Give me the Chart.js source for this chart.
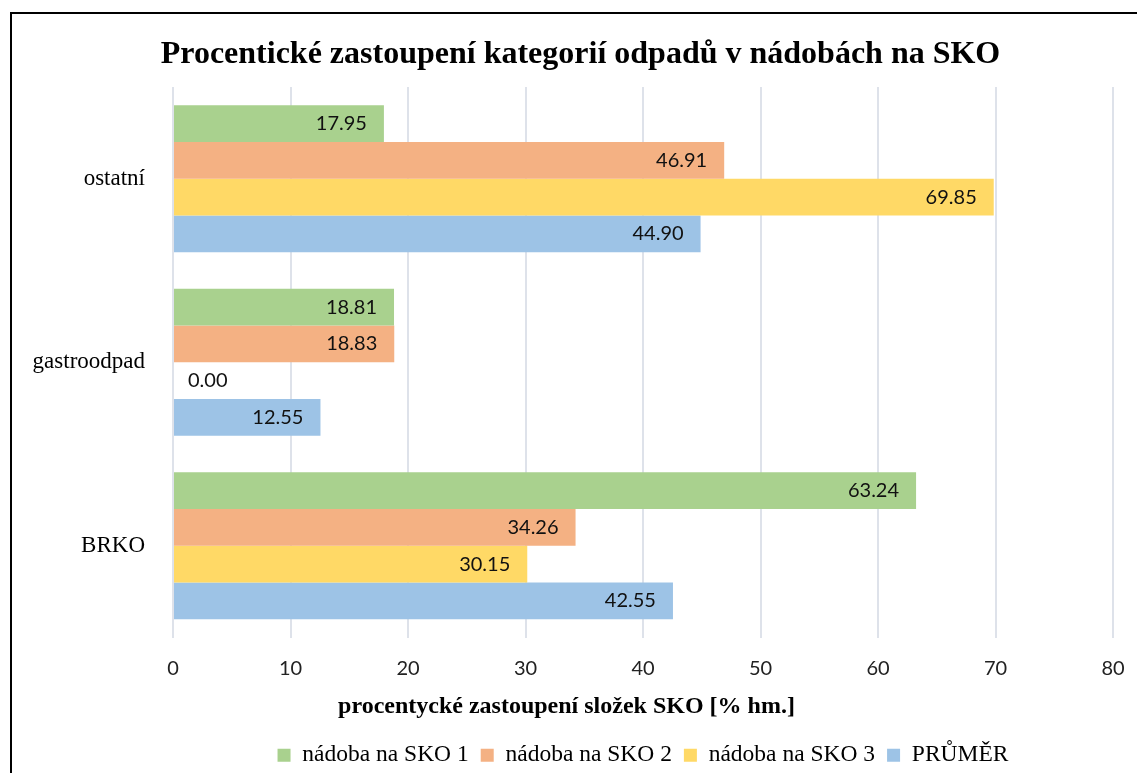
<!DOCTYPE html>
<html>
<head>
<meta charset="utf-8">
<script src="https://cdn.jsdelivr.net/npm/chart.js@4.4.0/dist/chart.umd.min.js"></script>
<style>
  body { margin: 0; background: #fff; overflow: hidden; }
  #frame { position: absolute; left: 10px; top: 12px; width: 1200px; height: 800px; border-left: 2px solid #000; border-top: 2px solid #000; }
  #chart { position: absolute; left: 12px; top: 14px; }
</style>
</head>
<body>
<div id="frame"></div>
<canvas id="chart" width="1137" height="763"></canvas>
<script>
const categories = ["ostatní", "gastroodpad", "BRKO"];
const sko1 = [17.95, 18.81, 63.24];
const sko2 = [46.91, 18.83, 34.26];
const sko3 = [69.85, 0.0, 30.15];
const prumer = [44.9, 12.55, 42.55];
const seriesNames = ["nádoba na SKO 1", "nádoba na SKO 2", "nádoba na SKO 3", "PRŮMĚR"];
const seriesColors = ["#A9D18E", "#F4B183", "#FFD966", "#9DC3E6"];
const xTicks = [0, 10, 20, 30, 40, 50, 60, 70, 80];

const titleText = "Procentické zastoupení kategorií odpadů v nádobách na SKO";
const xTitle = "procentycké zastoupení složek SKO [% hm.]";

const serif = "'Liberation Serif', 'Times New Roman', serif";
const sans = "Lato, 'Open Sans', sans-serif";

// values written at the end of each bar
const barLabels = {
  id: "barLabels",
  afterDatasetsDraw(chart) {
    const ctx = chart.ctx;
    ctx.save();
    ctx.font = "20px " + sans;
    ctx.fillStyle = "#111";
    ctx.textBaseline = "middle";
    chart.data.datasets.forEach((ds, i) => {
      chart.getDatasetMeta(i).data.forEach((bar, j) => {
        const text = ds.data[j].toFixed(2);
        const w = ctx.measureText(text).width;
        if (bar.x - bar.base > w + 24) {
          ctx.textAlign = "right";
          ctx.fillText(text, bar.x - 17, bar.y);
        } else {
          ctx.textAlign = "left";
          ctx.fillText(text, bar.x + 15, bar.y);
        }
      });
    });
    ctx.restore();
  },
};

// chart title and axis title are centred on the frame, not on the plot
const frameTexts = {
  id: "frameTexts",
  afterDraw(chart) {
    const ctx = chart.ctx;
    ctx.save();
    ctx.fillStyle = "#000";
    ctx.textAlign = "center";
    ctx.textBaseline = "middle";
    ctx.font = "bold 32px " + serif;
    ctx.fillText(titleText, chart.width / 2, 41);
    ctx.font = "bold 24px " + serif;
    ctx.fillText(xTitle, chart.width / 2 - 14, 693);
    ctx.restore();
  },
};

const datasets = [sko1, sko2, sko3, prumer].map((values, i) => ({
  label: seriesNames[i],
  data: values,
  backgroundColor: seriesColors[i],
  borderWidth: 0,
  categoryPercentage: 0.8,
  barPercentage: 1.0,
}));

new Chart(document.getElementById("chart"), {
  type: "bar",
  data: { labels: categories, datasets: datasets },
  plugins: [barLabels, frameTexts],
  options: {
    indexAxis: "y",
    responsive: false,
    animation: false,
    layout: { padding: { left: 0, right: 36, top: 73, bottom: 0 } },
    plugins: {
      title: { display: false },
      legend: {
        position: "bottom",
        fullSize: false,
        labels: {
          color: "#000",
          font: { family: serif, size: 23.5 },
          boxWidth: 13,
          boxHeight: 13,
          padding: 12,
        },
      },
      tooltip: { enabled: false },
    },
    scales: {
      x: {
        min: 0,
        max: 80,
        afterBuildTicks: (scale) => {
          scale.ticks = xTicks.map((v) => ({ value: v }));
        },
        afterFit: (scale) => {
          scale.height += 32;
        },
        grid: { color: "#DEE2EA", lineWidth: 2, drawTicks: false },
        border: { display: false },
        ticks: { color: "#222", font: { family: sans, size: 20 }, padding: 19 },
      },
      y: {
        afterFit: (scale) => {
          scale.width = 161;
        },
        grid: { display: false, drawTicks: false },
        border: { display: false },
        ticks: { color: "#000", font: { family: serif, size: 23 }, padding: 28 },
      },
    },
  },
});
</script>
</body>
</html>
